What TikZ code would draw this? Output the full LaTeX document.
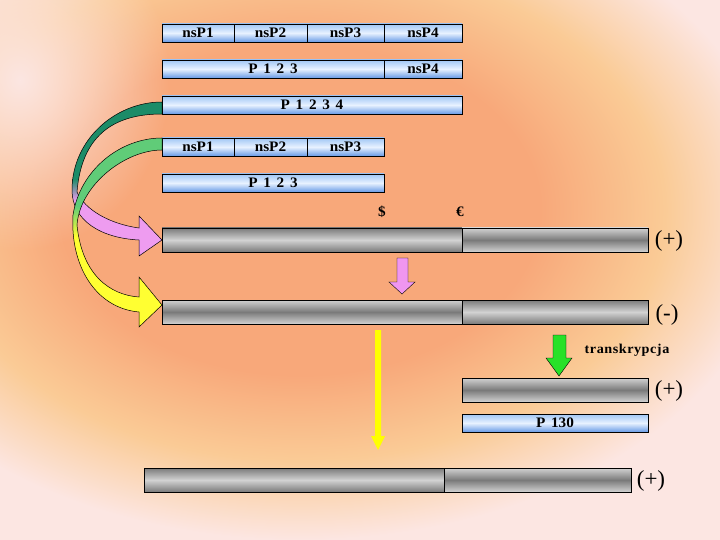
\documentclass[tikz,border=0pt]{standalone}
\usepackage{fontspec}
\setmainfont{Liberation Serif}
\newfontfamily\barfont[FakeStretch=1.05,WordSpace=1.5]{Liberation Serif}
\usetikzlibrary{fadings}
\definecolor{bgpink}{RGB}{252,230,226}
\definecolor{bgpeach}{RGB}{250,203,150}
\definecolor{bgsalmon}{RGB}{248,168,122}
\definecolor{barblueA}{RGB}{160,198,245}
\definecolor{barblueB}{RGB}{105,155,230}
\definecolor{barwhite}{RGB}{232,242,255}
\definecolor{grayhi}{RGB}{210,210,210}
\definecolor{graylo}{RGB}{122,122,122}
\definecolor{ribbondark}{RGB}{28,140,104}
\definecolor{ribbonlight}{RGB}{96,204,120}
\definecolor{ribbonpink}{RGB}{238,156,240}
\definecolor{ribbonyellow}{RGB}{255,255,50}
\definecolor{arrowpink}{RGB}{240,150,240}
\definecolor{arrowgreen}{RGB}{40,225,40}
\definecolor{arrowyellow}{RGB}{255,255,0}
\pgfdeclareradialshading{bgglow}{\pgfpoint{0bp}{0bp}}{color(0bp)=(bgsalmon); color(12.5bp)=(bgsalmon); color(19bp)=(bgpeach); color(25bp)=(bgpink); color(50bp)=(bgpink)}
\pgfdeclareverticalshading{ribbonA}{100bp}{color(0bp)=(ribbonpink); color(43bp)=(ribbonpink); color(50bp)=(ribbondark); color(100bp)=(ribbondark)}
\pgfdeclareverticalshading{ribbonB}{100bp}{color(0bp)=(ribbonyellow); color(49bp)=(ribbonyellow); color(57bp)=(ribbonlight); color(100bp)=(ribbonlight)}
\tikzfading[name=softglow,inner color=transparent!0,outer color=transparent!100]
\begin{document}
\begin{tikzpicture}[x=1pt,y=-1pt,
  bar/.style={draw=black,line width=0.7pt,anchor=north west,inner sep=0pt,outer sep=0pt},
  bluebar/.style={bar,minimum height=18pt,top color=barblueA,bottom color=barblueB,middle color=barwhite,font=\barfont\bfseries\fontsize{14.5}{16}\selectfont},
  greyhump/.style={bar,minimum height=24pt,top color=graylo,bottom color=graylo,middle color=grayhi},
  greydip/.style={bar,minimum height=24pt,top color=grayhi,bottom color=grayhi,middle color=graylo},
  strand/.style={font=\fontsize{23}{26}\selectfont},
  site/.style={font=\barfont\bfseries\fontsize{14.5}{16}\selectfont},
  blockarrow/.style={draw=black,line width=0.4pt},
  ribbon/.style={draw=black,line width=0.5pt}]
  \useasboundingbox (0,0) rectangle (720,540);
  \fill[bgpink] (0,0) rectangle (720,540);
  \begin{scope}
    \clip (0,0) rectangle (720,540);
    \shade[shading=bgglow] (300,210) ellipse (480 and 330);
    \fill[bgpink,path fading=softglow] (20,80) ellipse (150 and 170);
  \end{scope}
  \node[bluebar,minimum width=72pt] (r1a) at (162,24) {nsP1};
  \node[bluebar,minimum width=73pt] (r1b) at (234,24) {nsP2};
  \node[bluebar,minimum width=77pt] (r1c) at (307,24) {nsP3};
  \node[bluebar,minimum width=78pt] (r1d) at (384,24) {nsP4};
  \node[bluebar,minimum width=222pt] (r2a) at (162,60) {P 1 2 3};
  \node[bluebar,minimum width=78pt] (r2b) at (384,60) {nsP4};
  \node[bluebar,minimum width=300pt] (r3) at (162,96) {P 1 2 3 4};
  \node[bluebar,minimum width=72pt] (r4a) at (162,138) {nsP1};
  \node[bluebar,minimum width=73pt] (r4b) at (234,138) {nsP2};
  \node[bluebar,minimum width=77pt] (r4c) at (307,138) {nsP3};
  \node[bluebar,minimum width=222pt] (r5) at (162,174) {P 1 2 3};
  \node[site] (dollar) at (382,212) {\$};
  \node[site] (euro) at (460,212) {€};
  \node[greyhump,minimum width=300pt] (pos1l) at (162,228) {};
  \node[greydip,minimum width=186pt] (pos1r) at (462,228) {};
  \node[greydip,minimum width=300pt] (neg1l) at (162,300) {};
  \node[greyhump,minimum width=186pt] (neg1r) at (462,300) {};
  \node[greydip,minimum width=186pt] (pos2) at (462,378) {};
  \node[bluebar,minimum width=186pt] (p130) at (462,414) {P 130};
  \node[greyhump,minimum width=300pt] (pos3l) at (144,468) {};
  \node[greydip,minimum width=187pt] (pos3r) at (444,468) {};
  \shadedraw[ribbon,shading=ribbonA] (162,102) .. controls (115,102) and (72,140) .. (72,190)
    .. controls (72,220) and (100,238) .. (139,240) -- (139,256) -- (pos1l.west) -- (139,216) -- (139,228)
    .. controls (110,224) and (85,210) .. (77,192)
    .. controls (82,130) and (120,114) .. (r3.south west) -- cycle;
  \shadedraw[ribbon,shading=ribbonB] (r4a.north west) .. controls (120,138) and (80,170) .. (73,215)
    .. controls (70,265) and (95,308) .. (139,312) -- (139,327) -- (162,305) -- (139,277) -- (139,297)
    .. controls (110,295) and (82,275) .. (77,225)
    .. controls (80,185) and (125,150) .. (162,150) -- cycle;
  \draw[blockarrow,fill=arrowpink] (397,258) -- (408,258) -- (408,282) -- (415,282) -- (402,294)
    -- (389,282) -- (397,282) -- cycle;
  \fill[arrowyellow] (375,330) -- (381,330) -- (381,436) -- (385,436) -- (378,450)
    -- (371,436) -- (375,436) -- cycle;
  \draw[blockarrow,fill=arrowgreen] (553,335) -- (566,335) -- (566,358) -- (572,358) -- (559,376)
    -- (546,358) -- (553,358) -- cycle;
  \node[strand] (s1) at (669,241) {(+)};
  \node[strand] (s2) at (667,315) {(-)};
  \node[site,font=\barfont\bfseries\fontsize{13.5}{15}\addfontfeature{LetterSpace=4}\selectfont] (tr) at (627,350) {transkrypcja};
  \node[strand] (s3) at (669,391) {(+)};
  \node[strand] (s4) at (651,481) {(+)};
\end{tikzpicture}
\end{document}
